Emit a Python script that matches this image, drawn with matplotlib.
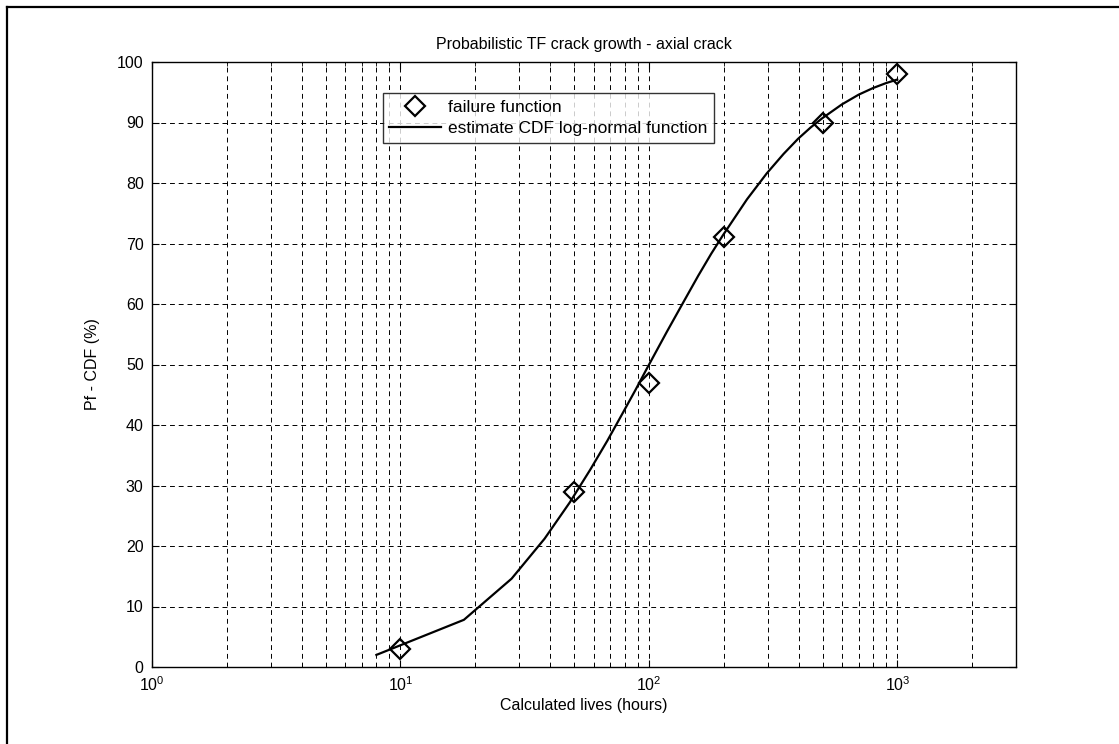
import numpy as np
import matplotlib
matplotlib.use("Agg")
import matplotlib.pyplot as plt
from matplotlib.lines import Line2D

plt.rcParams['font.family'] = ['Liberation Sans', 'DejaVu Sans']
plt.rcParams['mathtext.default'] = 'regular'

# failure points (hours, %)
fail_hours = [10, 50, 100, 200, 500, 1000]
fail_pf = [3, 29, 47, 71, 90, 98]

# estimated log-normal CDF
cdf_hours = [8, 18, 28, 38, 48, 58, 68, 78, 88, 98, 118, 138, 158, 178, 198,
             248, 298, 348, 398, 448, 498, 598, 698, 798, 898, 998]
cdf_pf = [2.0, 7.8, 14.6, 21.2, 27.2, 32.6, 37.4, 41.8, 45.7, 49.3, 55.4, 60.4,
          64.7, 68.3, 71.3, 77.3, 81.6, 84.8, 87.3, 89.2, 90.7, 93.0, 94.6,
          95.7, 96.5, 97.1]

fig = plt.figure(figsize=(11.19, 7.44), dpi=100)
ax = fig.add_axes([152/1119, 77/744, 864/1119, 605/744])

ax.semilogx(fail_hours, fail_pf, 'D', mfc='none', mec='black', mew=1.6,
            ms=10, label='failure function', zorder=3)
ax.semilogx(cdf_hours, cdf_pf, '-', color='black', lw=1.6,
            label='estimate CDF log-normal function', zorder=2)

ax.set_xlim(1, 3000)
ax.set_ylim(0, 100)
ax.set_yticks(np.arange(0, 101, 10))

dash = (0, (5, 4))
ax.grid(True, which='major', axis='both', color='black', lw=0.7, linestyle=dash)
ax.grid(True, which='minor', axis='x', color='black', lw=0.7, linestyle=dash)

ax.tick_params(which='both', direction='in', top=True, right=True,
               labelsize=11.5, color='black')
ax.tick_params(which='major', length=5, pad=6)
ax.tick_params(which='minor', length=3)
for s in ax.spines.values():
    s.set_linewidth(1.0)

ax.set_title('Probabilistic TF crack growth - axial crack', fontsize=11.5, pad=9)
ax.set_xlabel('Calculated lives (hours)', fontsize=11.5, labelpad=3)
ax.set_ylabel('Pf - CDF (%)', fontsize=11.5, labelpad=12)

leg = ax.legend(loc='upper left', bbox_to_anchor=(0.267, 0.949), fontsize=12.5,
                frameon=True, fancybox=False, borderpad=0.38, borderaxespad=0,
                handlelength=3.0, handletextpad=0.4, labelspacing=0.38)
leg.get_frame().set_edgecolor('black')
leg.get_frame().set_linewidth(1.0)

# outer frame (only top and left edges are inside the picture)
fig.add_artist(Line2D([7/1119, 7/1119], [0, 1 - 7/744], color='black', lw=1.6,
                      transform=fig.transFigure))
fig.add_artist(Line2D([7/1119, 1], [1 - 7/744, 1 - 7/744], color='black', lw=1.6,
                      transform=fig.transFigure))

fig.savefig('out.png', dpi=100)
